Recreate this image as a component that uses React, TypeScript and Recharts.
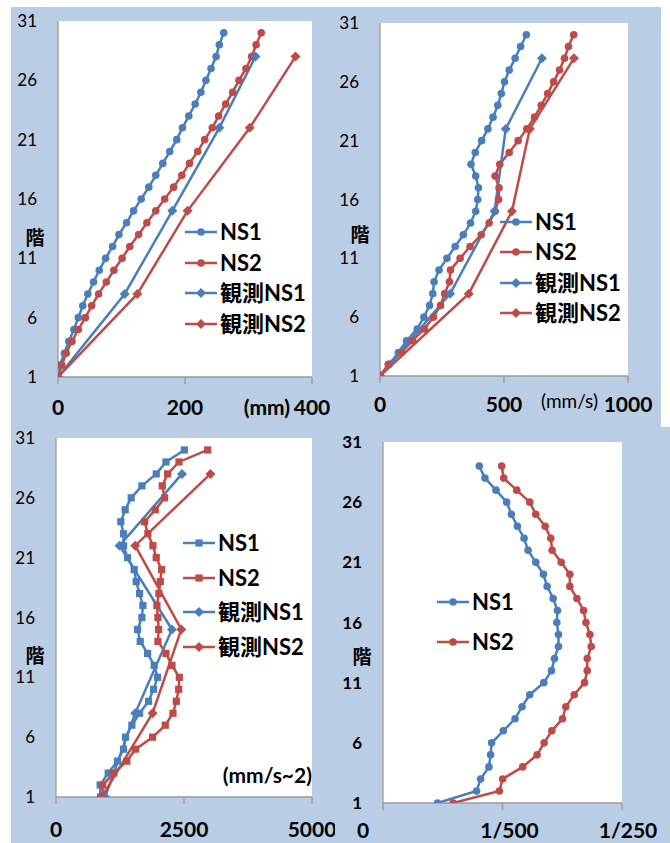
import React from 'react';
import { LineChart, Line, XAxis, YAxis, CartesianGrid, Legend } from 'recharts';

const BLUE = '#4A7EBB';
const RED = '#BE4B48';
const BG = '#B9CDE5';
const AXIS = '#9A9A9A';
const FONT = "Lato, 'Noto Sans CJK JP', sans-serif";

// ---- floors / categories ----
const FLOORS_30 = [1, 2, 3, 4, 5, 6, 7, 8, 9, 10, 11, 12, 13, 14, 15, 16, 17, 18, 19, 20, 21, 22, 23, 24, 25, 26, 27, 28, 29, 30];
const FLOORS_29 = [1, 2, 3, 4, 5, 6, 7, 8, 9, 10, 11, 12, 13, 14, 15, 16, 17, 18, 19, 20, 21, 22, 23, 24, 25, 26, 27, 28, 29];
const OBS_FLOORS = [1, 8, 15, 22, 28];
const FLOOR_TICKS = [1, 6, 11, 16, 21, 26, 31];
const FLOOR_DOMAIN = [1, 31];

// ---- panel 1: displacement (mm) ----
const DISP_TICKS = [0, 200, 400];
const DISP_NS1 = [0, 3, 10, 17, 25, 32, 39, 47, 56, 65, 75, 86, 96, 108, 119, 131, 143, 154, 165, 176, 187, 196, 206, 216, 225, 233, 241, 249, 254, 261];
const DISP_NS2 = [0, 6, 13, 22, 32, 43, 53, 64, 76, 88, 101, 113, 127, 140, 154, 168, 182, 195, 207, 220, 231, 243, 253, 264, 275, 285, 296, 305, 312, 320];
const DISP_OBS_NS1 = [0, 105, 180, 254, 311];
const DISP_OBS_NS2 = [0, 125, 204, 302, 374];

// ---- panel 2: velocity (mm/s) ----
const VEL_TICKS = [0, 500, 1000];
const VEL_NS1 = [0, 38, 74, 107, 150, 177, 200, 213, 218, 238, 270, 303, 336, 365, 386, 394, 397, 386, 367, 384, 410, 435, 456, 475, 489, 502, 521, 545, 567, 590];
const VEL_NS2 = [0, 33, 87, 131, 179, 215, 244, 261, 280, 284, 323, 363, 408, 440, 464, 478, 480, 464, 483, 521, 557, 592, 623, 650, 676, 700, 724, 744, 760, 781];
const VEL_OBS_NS1 = [0, 283, 462, 507, 653];
const VEL_OBS_NS2 = [0, 358, 532, 604, 782];

// ---- panel 3: acceleration (mm/s^2) ----
const ACC_TICKS = [0, 2500, 5000];
const ACC_NS1 = [870, 862, 1020, 1201, 1319, 1358, 1482, 1632, 1808, 1906, 1984, 1919, 1789, 1645, 1593, 1678, 1697, 1632, 1567, 1527, 1397, 1319, 1319, 1266, 1351, 1469, 1678, 1958, 2148, 2507];
const ACC_NS2 = [910, 910, 1130, 1384, 1554, 1886, 2134, 2285, 2350, 2396, 2409, 2265, 2148, 1991, 2004, 1991, 1971, 2010, 2037, 2063, 1958, 1893, 1795, 1730, 1939, 2121, 2076, 2180, 2402, 2963];
const ACC_OBS_NS1 = [960, 1547, 2265, 1240, 2461];
const ACC_OBS_NS2 = [894, 1886, 2448, 1547, 3016];

// ---- panel 4: story drift ratio ----
const DRIFT_TICKS = [0, 0.002, 0.004];
const DRIFT_TICK_LABELS = ['0', '1/500', '1/250'];
const DRIFT_NS1 = [0.000912, 0.001566, 0.001634, 0.001773, 0.001801, 0.001818, 0.002014, 0.00221, 0.002327, 0.002456, 0.002691, 0.00282, 0.00287, 0.002937, 0.002937, 0.002909, 0.00292, 0.002848, 0.002747, 0.002685, 0.002557, 0.002428, 0.002361, 0.002249, 0.002148, 0.00207, 0.001891, 0.001706, 0.001611];
const DRIFT_NS2 = [0.001175, 0.001947, 0.002003, 0.002338, 0.002579, 0.002697, 0.002825, 0.003004, 0.00306, 0.0032, 0.003373, 0.003418, 0.003418, 0.003485, 0.003463, 0.003396, 0.003357, 0.003245, 0.003127, 0.003127, 0.002982, 0.002831, 0.002808, 0.002713, 0.002557, 0.002456, 0.002238, 0.00202, 0.001986];

const toPoints = (floors: number[], values: number[]) => floors.map((f, i) => ({ f, v: values[i] }));

type Shape = 'circle' | 'square' | 'diamond';
type Series = { name: string; color: string; shape: Shape; data: { f: number; v: number }[] };

function Marker({ shape, cx, cy, color }: { shape: Shape; cx: number; cy: number; color: string }) {
  if (cx == null || cy == null || isNaN(cx) || isNaN(cy)) return null;
  if (shape === 'circle') return <circle cx={cx} cy={cy} r={3.8} fill={color} />;
  if (shape === 'square') {
    const s = 3.6;
    return <rect x={cx - s} y={cy - s} width={2 * s} height={2 * s} fill={color} />;
  }
  const d = 5;
  return <polygon points={`${cx},${cy - d} ${cx + d},${cy} ${cx},${cy + d} ${cx - d},${cy}`} fill={color} />;
}

function LegendBox({ items, rowH }: { items: Series[]; rowH: number }) {
  return (
    <div style={{ fontFamily: FONT }}>
      {items.map((s) => (
        <div key={s.name} style={{ display: 'flex', alignItems: 'center', height: rowH }}>
          <svg width={32} height={12} style={{ display: 'block' }}>
            <line x1={0} y1={6} x2={32} y2={6} stroke={s.color} strokeWidth={2.5} />
            <Marker shape={s.shape} cx={16} cy={6} color={s.color} />
          </svg>
          <span style={{ marginLeft: 3, fontSize: 22, fontWeight: 700, color: '#000', lineHeight: 1, whiteSpace: 'nowrap' }}>
            {s.name}
          </span>
        </div>
      ))}
    </div>
  );
}

type PanelCfg = {
  left: number;
  top: number;
  width: number;
  height: number;
  margin: { top: number; right: number; bottom: number; left: number };
  yAxisWidth: number;
  xDomain: number[];
  xTicks: number[];
  xTickMargin: number;
  xTickLabels?: string[];
  xTickDx?: number[];
  yTickBold?: boolean;
  series: Series[];
  legend: { left: number; top: number; rowH: number };
  yLabel: { dx: number; dy: number };
  unit?: { text: string; dx: number; dy: number; size: number; weight: number };
};

function Panel({ cfg }: { cfg: PanelCfg }) {
  const xTick = (props: any) => {
    const { x, y, payload, index } = props;
    const i = cfg.xTicks.indexOf(payload.value);
    const label = cfg.xTickLabels ? cfg.xTickLabels[i] : String(payload.value);
    const dx = cfg.xTickDx ? cfg.xTickDx[i] : 0;
    return (
      <text key={`xt-${index}`} x={x + dx} y={y} dy="0.71em" textAnchor="middle" fontFamily={FONT} fontSize={21} fontWeight={700} fill="#000">
        {label}
      </text>
    );
  };
  const yLabel = (props: any) => {
    const vb = props.viewBox;
    return (
      <text x={vb.x + cfg.yLabel.dx} y={vb.y + cfg.yLabel.dy} textAnchor="middle" dominantBaseline="central" fontFamily={FONT} fontSize={19} fontWeight={700} fill="#000">
        階
      </text>
    );
  };
  const unitLabel = (props: any) => {
    if (!cfg.unit) return null;
    const vb = props.viewBox;
    return (
      <text x={vb.x + vb.width + cfg.unit.dx} y={vb.y + cfg.unit.dy} textAnchor="end" fontFamily={FONT} fontSize={cfg.unit.size} fontWeight={cfg.unit.weight} fill="#000">
        {cfg.unit.text}
      </text>
    );
  };
  return (
    <div style={{ position: 'absolute', left: cfg.left, top: cfg.top }}>
      <LineChart width={cfg.width} height={cfg.height} margin={cfg.margin}>
        <CartesianGrid horizontal={false} vertical={false} fill="#FFFFFF" stroke="none" />
        <XAxis
          type="number"
          dataKey="v"
          domain={cfg.xDomain}
          ticks={cfg.xTicks}
          interval={0}
          allowDataOverflow
          height={30}
          axisLine={{ stroke: AXIS, strokeWidth: 1.3 }}
          tickLine={{ stroke: AXIS, strokeWidth: 1.3 }}
          tickSize={7}
          tickMargin={cfg.xTickMargin}
          tick={xTick}
          label={unitLabel}
        />
        <YAxis
          type="number"
          domain={FLOOR_DOMAIN}
          ticks={FLOOR_TICKS}
          interval={0}
          allowDataOverflow
          width={cfg.yAxisWidth}
          axisLine={{ stroke: AXIS, strokeWidth: 1.3 }}
          tickLine={false}
          tickSize={0}
          tickMargin={21}
          tick={{ fontFamily: FONT, fontSize: 17, fontWeight: cfg.yTickBold ? 700 : 400, fill: '#000' }}
          label={yLabel}
        />
        {cfg.series.map((s) => (
          <Line
            key={s.name}
            name={s.name}
            data={s.data}
            dataKey="f"
            type="linear"
            stroke={s.color}
            strokeWidth={2.5}
            isAnimationActive={false}
            activeDot={false}
            dot={(p: any) => <Marker key={`${s.name}-${p.index}`} shape={s.shape} cx={p.cx} cy={p.cy} color={s.color} />}
          />
        ))}
        <Legend
          layout="vertical"
          align="center"
          verticalAlign="middle"
          wrapperStyle={{ left: cfg.legend.left, top: cfg.legend.top, width: 'auto', height: 'auto' }}
          content={() => <LegendBox items={cfg.series} rowH={cfg.legend.rowH} />}
        />
      </LineChart>
    </div>
  );
}

const P1: PanelCfg = {
  left: 0, top: 0, width: 335, height: 420,
  margin: { top: 21, right: 23, bottom: 13, left: 0 },
  yAxisWidth: 58,
  xDomain: [0, 400], xTicks: DISP_TICKS, xTickMargin: 16,
  series: [
    { name: 'NS1', color: BLUE, shape: 'circle', data: toPoints(FLOORS_30, DISP_NS1) },
    { name: 'NS2', color: RED, shape: 'circle', data: toPoints(FLOORS_30, DISP_NS2) },
    { name: '観測NS1', color: BLUE, shape: 'diamond', data: toPoints(OBS_FLOORS, DISP_OBS_NS1) },
    { name: '観測NS2', color: RED, shape: 'diamond', data: toPoints(OBS_FLOORS, DISP_OBS_NS2) },
  ],
  legend: { left: 185, top: 216.7, rowH: 30.6 },
  yLabel: { dx: 35, dy: 216 },
  unit: { text: '(mm)', dx: -22, dy: 38, size: 21, weight: 700 },
};

const P2: PanelCfg = {
  left: 335, top: 0, width: 335, height: 420,
  margin: { top: 23, right: 42, bottom: 14, left: 0 },
  yAxisWidth: 45,
  xDomain: [0, 1000], xTicks: VEL_TICKS, xTickMargin: 14,
  series: [
    { name: 'NS1', color: BLUE, shape: 'circle', data: toPoints(FLOORS_30, VEL_NS1) },
    { name: 'NS2', color: RED, shape: 'circle', data: toPoints(FLOORS_30, VEL_NS2) },
    { name: '観測NS1', color: BLUE, shape: 'diamond', data: toPoints(OBS_FLOORS, VEL_OBS_NS1) },
    { name: '観測NS2', color: RED, shape: 'diamond', data: toPoints(OBS_FLOORS, VEL_OBS_NS2) },
  ],
  legend: { left: 165, top: 206.8, rowH: 30.3 },
  yLabel: { dx: 25, dy: 211 },
  unit: { text: '(mm/s)', dx: -30, dy: 32, size: 19, weight: 400 },
};

const P3: PanelCfg = {
  left: 0, top: 420, width: 335, height: 423,
  margin: { top: 18, right: 23, bottom: 16, left: 0 },
  yAxisWidth: 56,
  xDomain: [0, 5000], xTicks: ACC_TICKS, xTickMargin: 18,
  series: [
    { name: 'NS1', color: BLUE, shape: 'square', data: toPoints(FLOORS_30, ACC_NS1) },
    { name: 'NS2', color: RED, shape: 'square', data: toPoints(FLOORS_30, ACC_NS2) },
    { name: '観測NS1', color: BLUE, shape: 'diamond', data: toPoints(OBS_FLOORS, ACC_OBS_NS1) },
    { name: '観測NS2', color: RED, shape: 'diamond', data: toPoints(OBS_FLOORS, ACC_OBS_NS2) },
  ],
  legend: { left: 183, top: 105.6, rowH: 34.7 },
  yLabel: { dx: 35, dy: 217 },
  unit: { text: '(mm/s~2)', dx: 0, dy: -14, size: 21, weight: 700 },
};

const P4: PanelCfg = {
  left: 335, top: 420, width: 335, height: 423,
  margin: { top: 22, right: 48, bottom: 10, left: 0 },
  yAxisWidth: 48,
  xDomain: [0, 0.004], xTicks: DRIFT_TICKS, xTickMargin: 13,
  xTickLabels: DRIFT_TICK_LABELS, xTickDx: [-20, 7, 6],
  yTickBold: true,
  series: [
    { name: 'NS1', color: BLUE, shape: 'circle', data: toPoints(FLOORS_29, DRIFT_NS1) },
    { name: 'NS2', color: RED, shape: 'circle', data: toPoints(FLOORS_29, DRIFT_NS2) },
  ],
  legend: { left: 102, top: 162, rowH: 40 },
  yLabel: { dx: 27, dy: 214 },
};

export default function App() {
  return (
    <div style={{ position: 'absolute', left: 0, top: 0, width: 670, height: 843, background: '#FFFFFF', fontFamily: FONT }}>
      <div style={{ position: 'absolute', left: 11, top: 7, width: 650, height: 836, background: BG }} />
      <div style={{ position: 'absolute', left: 661, top: 427, width: 9, height: 416, background: BG }} />
      <Panel cfg={P1} />
      <Panel cfg={P2} />
      <Panel cfg={P3} />
      <Panel cfg={P4} />
    </div>
  );
}
